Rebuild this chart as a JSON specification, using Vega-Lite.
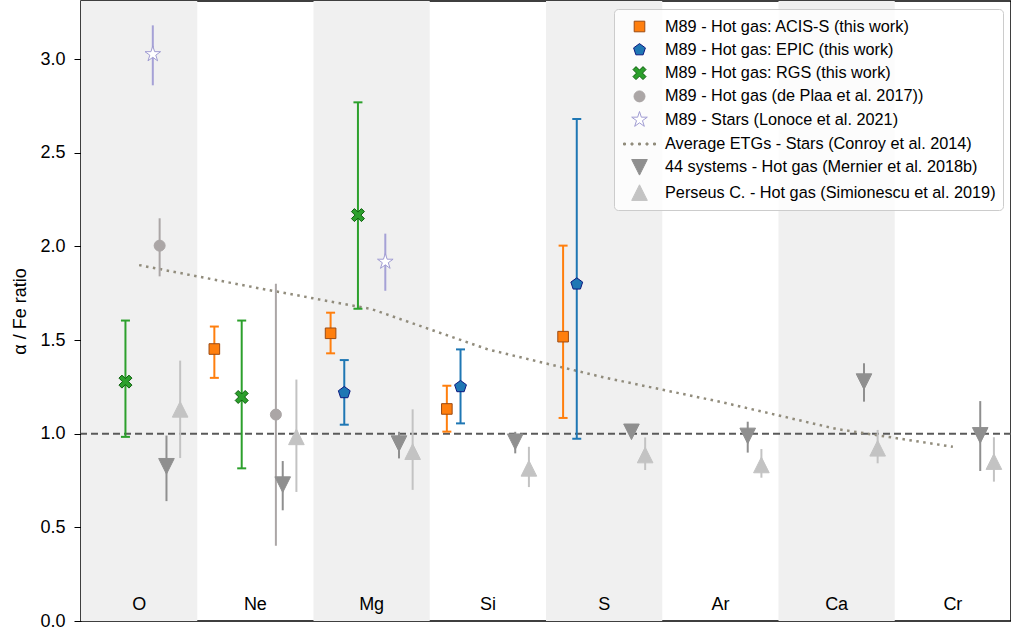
{
  "$schema": "https://vega.github.io/schema/vega-lite/v6.json",
  "width": 930,
  "height": 620,
  "autosize": {"type": "none"},
  "padding": {"left": 81, "top": 1, "right": 0, "bottom": 14},
  "background": "white",
  "config": {
    "view": {"stroke": "black", "strokeWidth": 1.5},
    "font": "Liberation Sans"
  },
  "datasets": {
    "bands": [{"el": "O"}, {"el": "Mg"}, {"el": "S"}, {"el": "Ca"}],
    "elements": [{"el": "O"}, {"el": "Ne"}, {"el": "Mg"}, {"el": "Si"}, {"el": "S"}, {"el": "Ar"}, {"el": "Ca"}, {"el": "Cr"}],
    "conroy": [
      {"el": "O", "series": "Average ETGs - Stars (Conroy et al. 2014)", "v": 1.90},
      {"el": "Ne", "series": "Average ETGs - Stars (Conroy et al. 2014)", "v": 1.78},
      {"el": "Mg", "series": "Average ETGs - Stars (Conroy et al. 2014)", "v": 1.665},
      {"el": "Si", "series": "Average ETGs - Stars (Conroy et al. 2014)", "v": 1.45},
      {"el": "S", "series": "Average ETGs - Stars (Conroy et al. 2014)", "v": 1.30},
      {"el": "Ar", "series": "Average ETGs - Stars (Conroy et al. 2014)", "v": 1.17},
      {"el": "Ca", "series": "Average ETGs - Stars (Conroy et al. 2014)", "v": 1.025},
      {"el": "Cr", "series": "Average ETGs - Stars (Conroy et al. 2014)", "v": 0.93}
    ],
    "pts": [
      {"el": "Ne", "series": "M89 - Hot gas: ACIS-S (this work)", "v": 1.452, "lo": 1.298, "hi": 1.572},
      {"el": "Mg", "series": "M89 - Hot gas: ACIS-S (this work)", "v": 1.536, "lo": 1.429, "hi": 1.646},
      {"el": "Si", "series": "M89 - Hot gas: ACIS-S (this work)", "v": 1.132, "lo": 1.011, "hi": 1.256},
      {"el": "S", "series": "M89 - Hot gas: ACIS-S (this work)", "v": 1.518, "lo": 1.084, "hi": 2.004},
      {"el": "Mg", "series": "M89 - Hot gas: EPIC (this work)", "v": 1.219, "lo": 1.048, "hi": 1.393},
      {"el": "Si", "series": "M89 - Hot gas: EPIC (this work)", "v": 1.251, "lo": 1.055, "hi": 1.45},
      {"el": "S", "series": "M89 - Hot gas: EPIC (this work)", "v": 1.799, "lo": 0.973, "hi": 2.68},
      {"el": "O", "series": "M89 - Hot gas: RGS (this work)", "v": 1.278, "lo": 0.983, "hi": 1.604},
      {"el": "Ne", "series": "M89 - Hot gas: RGS (this work)", "v": 1.196, "lo": 0.815, "hi": 1.604},
      {"el": "Mg", "series": "M89 - Hot gas: RGS (this work)", "v": 2.167, "lo": 1.667, "hi": 2.769},
      {"el": "O", "series": "M89 - Hot gas (de Plaa et al. 2017))", "v": 2.004, "lo": 1.84, "hi": 2.15},
      {"el": "Ne", "series": "M89 - Hot gas (de Plaa et al. 2017))", "v": 1.102, "lo": 0.402, "hi": 1.80},
      {"el": "O", "series": "M89 - Stars (Lonoce et al. 2021)", "v": 3.026, "lo": 2.86, "hi": 3.18},
      {"el": "Mg", "series": "M89 - Stars (Lonoce et al. 2021)", "v": 1.918, "lo": 1.763, "hi": 2.068},
      {"el": "O", "series": "44 systems - Hot gas (Mernier et al. 2018b)", "v": 0.826, "lo": 0.64, "hi": 0.99},
      {"el": "Ne", "series": "44 systems - Hot gas (Mernier et al. 2018b)", "v": 0.728, "lo": 0.591, "hi": 0.854},
      {"el": "Mg", "series": "44 systems - Hot gas (Mernier et al. 2018b)", "v": 0.947, "lo": 0.868, "hi": 1.01},
      {"el": "Si", "series": "44 systems - Hot gas (Mernier et al. 2018b)", "v": 0.957, "lo": 0.895, "hi": 1.01},
      {"el": "S", "series": "44 systems - Hot gas (Mernier et al. 2018b)", "v": 1.01, "lo": 0.985, "hi": 1.03},
      {"el": "Ar", "series": "44 systems - Hot gas (Mernier et al. 2018b)", "v": 0.988, "lo": 0.899, "hi": 1.064},
      {"el": "Ca", "series": "44 systems - Hot gas (Mernier et al. 2018b)", "v": 1.278, "lo": 1.171, "hi": 1.376},
      {"el": "Cr", "series": "44 systems - Hot gas (Mernier et al. 2018b)", "v": 0.991, "lo": 0.801, "hi": 1.174},
      {"el": "O", "series": "Perseus C. - Hot gas (Simionescu et al. 2019)", "v": 1.13, "lo": 0.87, "hi": 1.39},
      {"el": "Ne", "series": "Perseus C. - Hot gas (Simionescu et al. 2019)", "v": 0.983, "lo": 0.689, "hi": 1.289},
      {"el": "Mg", "series": "Perseus C. - Hot gas (Simionescu et al. 2019)", "v": 0.904, "lo": 0.70, "hi": 1.13},
      {"el": "Si", "series": "Perseus C. - Hot gas (Simionescu et al. 2019)", "v": 0.815, "lo": 0.715, "hi": 0.93},
      {"el": "S", "series": "Perseus C. - Hot gas (Simionescu et al. 2019)", "v": 0.886, "lo": 0.806, "hi": 0.98},
      {"el": "Ar", "series": "Perseus C. - Hot gas (Simionescu et al. 2019)", "v": 0.833, "lo": 0.765, "hi": 0.918},
      {"el": "Ca", "series": "Perseus C. - Hot gas (Simionescu et al. 2019)", "v": 0.922, "lo": 0.842, "hi": 1.02},
      {"el": "Cr", "series": "Perseus C. - Hot gas (Simionescu et al. 2019)", "v": 0.851, "lo": 0.744, "hi": 0.981}
    ]
  },
  "layer": [
    {
      "data": {"name": "bands"},
      "mark": {"type": "rect", "color": "#f0f0f0"},
      "encoding": {
        "x": {"field": "el", "type": "nominal", "axis": null,
              "scale": {"domain": ["O", "Ne", "Mg", "Si", "S", "Ar", "Ca", "Cr"], "paddingInner": 0, "paddingOuter": 0}},
        "y": {"datum": 0, "type": "quantitative",
              "scale": {"domain": [0, 3.31], "nice": false, "zero": false},
              "axis": {"title": "α / Fe ratio", "values": [0, 0.5, 1, 1.5, 2, 2.5, 3], "format": ".1f",
                       "domain": false, "grid": false, "ticks": true, "tickSize": 7, "tickColor": "black", "tickWidth": 1,
                       "labelFontSize": 18, "labelColor": "black", "labelPadding": 9, "labelFont": "Liberation Sans",
                       "titleFontSize": 18, "titleFontWeight": "normal", "titleColor": "black", "titlePadding": 10, "titleFont": "Liberation Sans"}},
        "y2": {"datum": 3.31}
      }
    },
    {
      "data": {"values": [{}]},
      "mark": {"type": "rule", "strokeDash": [7, 4], "color": "#5a5a5a", "strokeWidth": 2},
      "encoding": {"y": {"datum": 1, "type": "quantitative"}}
    },
    {
      "data": {"name": "conroy"},
      "mark": {"type": "line", "strokeWidth": 2.5, "strokeDash": [2.5, 4.5], "strokeCap": "butt"},
      "encoding": {
        "x": {"field": "el", "type": "nominal"},
        "y": {"field": "v", "type": "quantitative"},
        "order": {"value": null},
        "stroke": {"field": "series", "type": "nominal",
          "scale": {"domain": ["M89 - Hot gas: ACIS-S (this work)", "M89 - Hot gas: EPIC (this work)", "M89 - Hot gas: RGS (this work)", "M89 - Hot gas (de Plaa et al. 2017))", "M89 - Stars (Lonoce et al. 2021)", "Average ETGs - Stars (Conroy et al. 2014)", "44 systems - Hot gas (Mernier et al. 2018b)", "Perseus C. - Hot gas (Simionescu et al. 2019)"],
                    "range": ["#9c4a12", "#0d1a80", "#0c5e0c", "#aba6a6", "#a09cd2", "#918c7c", "#8f8f8f", "#c3c3c3"]},
          "legend": {"title": null, "orient": "top-right", "offset": 8, "padding": 7, "symbolSize": 400, "symbolOffset": 8, "labelOffset": 15, "rowPadding": 4.3,
                     "labelFontSize": 16.25, "labelFont": "Liberation Sans", "labelColor": "black", "labelLimit": 500,
                     "fillColor": "rgba(255,255,255,0.8)", "strokeColor": "#cccccc", "cornerRadius": 4, "symbolStrokeWidth": 1}
        }
      }
    },
    {
      "data": {"name": "pts"},
      "mark": {"type": "rule", "strokeWidth": 2},
      "encoding": {
        "x": {"field": "el", "type": "nominal"},
        "xOffset": {"field": "series", "type": "nominal",
          "scale": {"domain": ["_p1", "_p2", "M89 - Hot gas: ACIS-S (this work)", "_a", "M89 - Hot gas: EPIC (this work)", "_b", "M89 - Hot gas: RGS (this work)", "_c", "_d", "_e", "M89 - Stars (Lonoce et al. 2021)", "M89 - Hot gas (de Plaa et al. 2017))", "44 systems - Hot gas (Mernier et al. 2018b)", "_f", "Perseus C. - Hot gas (Simionescu et al. 2019)", "_q1", "_q2"],
                    "paddingInner": 0, "paddingOuter": 0}},
        "y": {"field": "lo", "type": "quantitative"},
        "y2": {"field": "hi"},
        "color": {"field": "series", "type": "nominal", "legend": null,
          "scale": {"domain": ["M89 - Hot gas: ACIS-S (this work)", "M89 - Hot gas: EPIC (this work)", "M89 - Hot gas: RGS (this work)", "M89 - Hot gas (de Plaa et al. 2017))", "M89 - Stars (Lonoce et al. 2021)", "44 systems - Hot gas (Mernier et al. 2018b)", "Perseus C. - Hot gas (Simionescu et al. 2019)"],
                    "range": ["#ff7f0e", "#1f77b4", "#2ca02c", "#aba6a6", "#a5a1d6", "#8f8f8f", "#c3c3c3"]}}
      }
    },
    {
      "data": {"name": "pts"},
      "transform": [{"filter": {"field": "series", "oneOf": ["M89 - Hot gas: ACIS-S (this work)", "M89 - Hot gas: EPIC (this work)", "M89 - Hot gas: RGS (this work)"]}}],
      "mark": {"type": "tick", "orient": "horizontal", "size": 9, "thickness": 2, "opacity": 1},
      "encoding": {
        "x": {"field": "el", "type": "nominal"},
        "xOffset": {"field": "series", "type": "nominal"},
        "y": {"field": "lo", "type": "quantitative"},
        "color": {"field": "series", "type": "nominal", "legend": null}
      }
    },
    {
      "data": {"name": "pts"},
      "transform": [{"filter": {"field": "series", "oneOf": ["M89 - Hot gas: ACIS-S (this work)", "M89 - Hot gas: EPIC (this work)", "M89 - Hot gas: RGS (this work)"]}}],
      "mark": {"type": "tick", "orient": "horizontal", "size": 9, "thickness": 2, "opacity": 1},
      "encoding": {
        "x": {"field": "el", "type": "nominal"},
        "xOffset": {"field": "series", "type": "nominal"},
        "y": {"field": "hi", "type": "quantitative"},
        "color": {"field": "series", "type": "nominal", "legend": null}
      }
    },
    {
      "data": {"name": "pts"},
      "mark": {"type": "point", "filled": true, "size": 400, "strokeWidth": 1, "opacity": 1},
      "encoding": {
        "x": {"field": "el", "type": "nominal"},
        "xOffset": {"field": "series", "type": "nominal"},
        "y": {"field": "v", "type": "quantitative"},
        "fill": {"field": "series", "type": "nominal",
          "scale": {"domain": ["M89 - Hot gas: ACIS-S (this work)", "M89 - Hot gas: EPIC (this work)", "M89 - Hot gas: RGS (this work)", "M89 - Hot gas (de Plaa et al. 2017))", "M89 - Stars (Lonoce et al. 2021)", "Average ETGs - Stars (Conroy et al. 2014)", "44 systems - Hot gas (Mernier et al. 2018b)", "Perseus C. - Hot gas (Simionescu et al. 2019)"],
                    "range": ["#ff7f0e", "#1f77b4", "#2ca02c", "#aba6a6", "#ffffff", "#918c7c", "#8f8f8f", "#c3c3c3"]},
          "legend": {"title": null}},
        "stroke": {"field": "series", "type": "nominal", "legend": {"title": null}},
        "shape": {"field": "series", "type": "nominal",
          "scale": {"domain": ["M89 - Hot gas: ACIS-S (this work)", "M89 - Hot gas: EPIC (this work)", "M89 - Hot gas: RGS (this work)", "M89 - Hot gas (de Plaa et al. 2017))", "M89 - Stars (Lonoce et al. 2021)", "Average ETGs - Stars (Conroy et al. 2014)", "44 systems - Hot gas (Mernier et al. 2018b)", "Perseus C. - Hot gas (Simionescu et al. 2019)"],
                    "range": [
                      "M-0.53,-0.53H0.53V0.53H-0.53Z",
                      "M0,-0.62L0.59,-0.192L0.364,0.502L-0.364,0.502L-0.59,-0.192Z",
                      "M-0.65,-0.35L-0.35,-0.65L0,-0.3L0.35,-0.65L0.65,-0.35L0.3,0L0.65,0.35L0.35,0.65L0,0.3L-0.35,0.65L-0.65,0.35L-0.3,0Z",
                      "M0.55,0A0.55,0.55,0,1,1,-0.55,0A0.55,0.55,0,1,1,0.55,0Z",
                      "M0,-0.82L0.184,-0.253L0.78,-0.253L0.298,0.097L0.482,0.663L0,0.313L-0.482,0.663L-0.298,0.097L-0.78,-0.253L-0.184,-0.253Z",
                      "M-1.6,-0.1h0.2v0.2h-0.2ZM-0.85,-0.1h0.2v0.2h-0.2ZM-0.1,-0.1h0.2v0.2h-0.2ZM0.65,-0.1h0.2v0.2h-0.2ZM1.4,-0.1h0.2v0.2h-0.2Z",
                      "M-0.78,-0.78H0.78L0,0.78Z",
                      "M0,-0.78L0.78,0.78H-0.78Z"
                    ]},
          "legend": {"title": null}}
      }
    },
    {
      "data": {"name": "elements"},
      "mark": {"type": "text", "fontSize": 18, "font": "Liberation Sans", "color": "black", "baseline": "middle"},
      "encoding": {
        "x": {"field": "el", "type": "nominal"},
        "y": {"datum": 0.085, "type": "quantitative"},
        "text": {"field": "el"}
      }
    }
  ]
}
